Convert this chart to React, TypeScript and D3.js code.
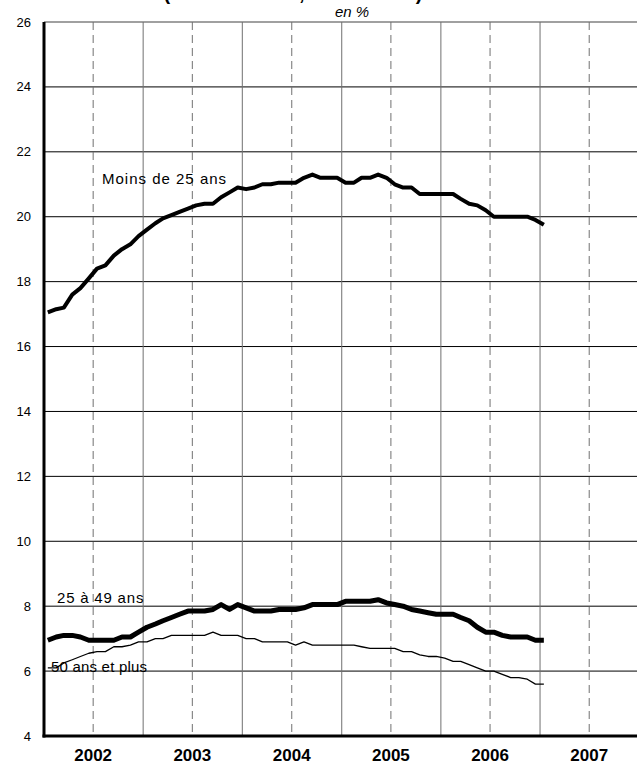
import React from 'react';
import * as d3 from 'd3';

// Monthly series, Jan 2002 .. Jan 2007 (en %)
const moins25 = [
	17.05, 17.15, 17.2, 17.6, 17.8, 18.1, 18.4, 18.5, 18.8, 19.0, 19.15, 19.4,
	19.6, 19.8, 19.95, 20.05, 20.15, 20.25, 20.35, 20.4, 20.4, 20.6, 20.75, 20.9,
	20.85, 20.9, 21.0, 21.0, 21.05, 21.05, 21.05, 21.2, 21.3, 21.2, 21.2, 21.2,
	21.05, 21.05, 21.2, 21.2, 21.3, 21.2, 21.0, 20.9, 20.9, 20.7, 20.7, 20.7,
	20.7, 20.7, 20.55, 20.4, 20.35, 20.2, 20.0, 20.0, 20.0, 20.0, 20.0, 19.9,
	19.75
];
const de25a49 = [
	6.95, 7.05, 7.1, 7.1, 7.05, 6.95, 6.95, 6.95, 6.95, 7.05, 7.05, 7.2,
	7.35, 7.45, 7.55, 7.65, 7.75, 7.85, 7.85, 7.85, 7.9, 8.05, 7.9, 8.05,
	7.95, 7.85, 7.85, 7.85, 7.9, 7.9, 7.9, 7.95, 8.05, 8.05, 8.05, 8.05,
	8.15, 8.15, 8.15, 8.15, 8.2, 8.1, 8.05, 8.0, 7.9, 7.85, 7.8, 7.75,
	7.75, 7.75, 7.65, 7.55, 7.35, 7.2, 7.2, 7.1, 7.05, 7.05, 7.05, 6.95,
	6.95
];
const plus50 = [
	6.1, 6.1, 6.25, 6.35, 6.45, 6.55, 6.6, 6.6, 6.75, 6.75, 6.8, 6.9,
	6.9, 7.0, 7.0, 7.1, 7.1, 7.1, 7.1, 7.1, 7.2, 7.1, 7.1, 7.1,
	7.0, 7.0, 6.9, 6.9, 6.9, 6.9, 6.8, 6.9, 6.8, 6.8, 6.8, 6.8,
	6.8, 6.8, 6.75, 6.7, 6.7, 6.7, 6.7, 6.6, 6.6, 6.5, 6.45, 6.45,
	6.4, 6.3, 6.3, 6.2, 6.1, 6.0, 6.0, 5.9, 5.8, 5.8, 5.75, 5.6,
	5.6
];

const years = [2002, 2003, 2004, 2005, 2006, 2007];
const yTicks = [4, 6, 8, 10, 12, 14, 16, 18, 20, 22, 24, 26];

const font = "'Liberation Sans', Arial, sans-serif";

export default function App() {
	const width = 637;
	const height = 773;
	const margin = { top: 22, left: 44, bottom: 37 };

	const x = d3.scaleTime()
		.domain([new Date(2002, 0, 1), new Date(2008, 0, 1)])
		.range([margin.left, margin.left + 6 * 99.2]);

	const y = d3.scaleLinear()
		.domain([4, 26])
		.range([height - margin.bottom, margin.top]);

	const firstMonth = new Date(2002, 0, 15);
	const months = moins25.map((_, i) => d3.timeMonth.offset(firstMonth, i));

	const line = d3.line<number>()
		.x((d, i) => x(months[i]))
		.y(d => y(d));

	const top = y(26);
	const bottom = y(4);

	return (
		<svg width={width} height={height} style={{ position: 'absolute', left: 0, top: 0, background: '#fff' }}>
			{/* title, cut off at the top of the page */}
			<text x={293} y={0} textAnchor="middle" fontFamily={font} fontWeight="bold" fontSize={20}>
				(données CVS, fin de mois)
			</text>
			<text x={352} y={17} textAnchor="middle" fontFamily={font} fontStyle="italic" fontSize={15}>en %</text>

			{/* horizontal grid */}
			{yTicks.filter(t => t > 4 && t < 26).map(t => (
				<line key={t} x1={margin.left} x2={width} y1={y(t)} y2={y(t)} stroke="#000" strokeWidth={1} />
			))}
			<line x1={margin.left} x2={width} y1={top} y2={top} stroke="#808080" strokeWidth={1.5} />

			{/* vertical grid: solid at year boundaries, dashed at mid-year */}
			{years.slice(1).map(yr => (
				<line key={'s' + yr} x1={x(new Date(yr, 0, 1))} x2={x(new Date(yr, 0, 1))} y1={top} y2={bottom}
					stroke="#707070" strokeWidth={1} />
			))}
			{years.map(yr => (
				<line key={'d' + yr} x1={x(new Date(yr, 6, 1))} x2={x(new Date(yr, 6, 1))} y1={top} y2={bottom}
					stroke="#707070" strokeWidth={1} strokeDasharray="8,5" />
			))}

			{/* series */}
			<path d={line(plus50) as string} fill="none" stroke="#000" strokeWidth={1.3} strokeLinejoin="round" />
			<path d={line(de25a49) as string} fill="none" stroke="#000" strokeWidth={5} strokeLinejoin="round" />
			<path d={line(moins25) as string} fill="none" stroke="#000" strokeWidth={4} strokeLinejoin="round" />

			{/* axes */}
			<line x1={margin.left} x2={margin.left} y1={top} y2={bottom + 1.5} stroke="#000" strokeWidth={3} />
			<line x1={margin.left - 1.5} x2={width} y1={bottom} y2={bottom} stroke="#000" strokeWidth={3} />

			{yTicks.map(t => (
				<text key={t} x={31} y={y(t)} dy="0.35em" textAnchor="end" fontFamily={font} fontSize={13}>{t}</text>
			))}
			{years.map(yr => (
				<text key={yr} x={x(new Date(yr, 6, 1))} y={761} textAnchor="middle" fontFamily={font}
					fontWeight="bold" fontSize={17}>{yr}</text>
			))}

			{/* series labels */}
			<text x={102} y={184} fontFamily={font} fontSize={15} letterSpacing={1}>Moins de 25 ans</text>
			<text x={57} y={603} fontFamily={font} fontSize={15} letterSpacing={0.8}>25 à 49 ans</text>
			<text x={51} y={672} fontFamily={font} fontSize={15} letterSpacing={0.2}>50 ans et plus</text>
		</svg>
	);
}
